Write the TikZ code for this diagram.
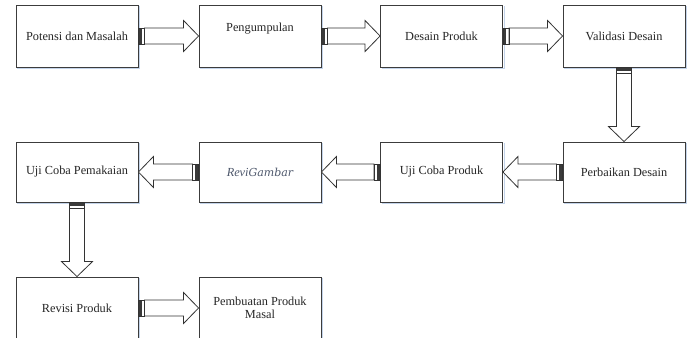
\documentclass[tikz,border=0pt]{standalone}
\usepackage{fontspec}
\setmainfont{Liberation Serif}
\newfontfamily\mathitfont{DejaVu Serif}
\usetikzlibrary{calc}
\definecolor{boxline}{HTML}{3C3C3C}
\definecolor{boxshade}{HTML}{C4D4EA}
\definecolor{stubgray}{HTML}{3A3A3A}
\definecolor{revitext}{HTML}{4E586C}
\tikzset{
  stepbox/.style={draw=boxline, line width=0.9pt, fill=white,
    minimum width=122pt, minimum height=62pt, inner sep=2pt,
    align=center, font=\fontsize{12.3}{14}\selectfont,
    text=black!85},
  boxshadow/.style={draw=boxshade, line width=1pt},
  arrowbody/.style={draw=black!80, line width=0.8pt, fill=white, line join=miter},
  stubfill/.style={fill=stubgray},
  stubline/.style={draw=black!80, line width=0.6pt},
}
% block arrow: #1 tail anchor, #2 tip anchor, #3 unit direction, #4 unit normal, #5 shaft half width
\newcommand\flowarrow[5]{%
  \draw[arrowbody] ($(#1)+6*(#3)+#5*(#4)$) -- ($(#2)-15*(#3)+#5*(#4)$)
    -- ($(#2)-15*(#3)+15.5*(#4)$) -- (#2) -- ($(#2)-15*(#3)-15.5*(#4)$)
    -- ($(#2)-15*(#3)-#5*(#4)$) -- ($(#1)+6*(#3)-#5*(#4)$) -- cycle;
  \fill[stubfill] ($(#1)+#5*(#4)$) rectangle ($(#1)+3.5*(#3)-#5*(#4)$);
  \draw[stubline] ($(#1)+#5*(#4)$) rectangle ($(#1)+6*(#3)-#5*(#4)$);
}
\begin{document}
\begin{tikzpicture}[x=1pt, y=-1pt]
  \useasboundingbox (0,0) rectangle (692,337);
  \fill[white] (0,0) rectangle (692,337);

  % row 1
  \node[stepbox] (potensi)  at (77,36)    {Potensi dan Masalah};
  \node[stepbox, text depth=18pt] (kumpul) at (260,36) {Pengumpulan};
  \node[stepbox] (desain)   at (441.5,36) {Desain Produk};
  \node[stepbox] (validasi) at (624,36)   {Validasi Desain};
  % row 2
  \node[stepbox, minimum height=60pt] (pakai)    at (77,172)    {Uji Coba Pemakaian};
  \node[stepbox, minimum height=60pt] (revgbr)   at (260,172)   {\textcolor{revitext}{\textit{Revi}{\mathitfont\itshape\fontsize{11}{13}\selectfont Gambar}}};
  \node[stepbox, minimum height=60pt] (ujiprod)  at (441.5,172) {Uji Coba Produk};
  \node[stepbox, minimum height=60pt] (perbaik)  at (624,172)   {Perbaikan Desain};
  % row 3
  \node[stepbox] (revisi) at (77,308)  {Revisi Produk};
  \node[stepbox] (masal)  at (260,308) {Pembuatan Produk\\[-1pt]Masal};

  % soft shadow along the lower and right edges of each box
  \foreach \b in {potensi,kumpul,desain,validasi,pakai,revgbr,ujiprod,perbaik,revisi,masal}{
    \draw[boxshadow] ($(\b.south west)+(1.5,1.2)$) -- ($(\b.south east)+(1.2,1.2)$)
      -- ($(\b.north east)+(1.2,1.5)$);
  }

  % connectors
  \flowarrow{potensi.east}{kumpul.west}{1,0}{0,1}{8}
  \flowarrow{kumpul.east}{desain.west}{1,0}{0,1}{8}
  \flowarrow{desain.east}{validasi.west}{1,0}{0,1}{8}
  \flowarrow{validasi.south}{perbaik.north}{0,1}{1,0}{7.5}
  \flowarrow{perbaik.west}{ujiprod.east}{-1,0}{0,1}{8}
  \flowarrow{ujiprod.west}{revgbr.east}{-1,0}{0,1}{8}
  \flowarrow{revgbr.west}{pakai.east}{-1,0}{0,1}{8}
  \flowarrow{pakai.south}{revisi.north}{0,1}{1,0}{7.5}
  \flowarrow{revisi.east}{masal.west}{1,0}{0,1}{8}
\end{tikzpicture}
\end{document}
